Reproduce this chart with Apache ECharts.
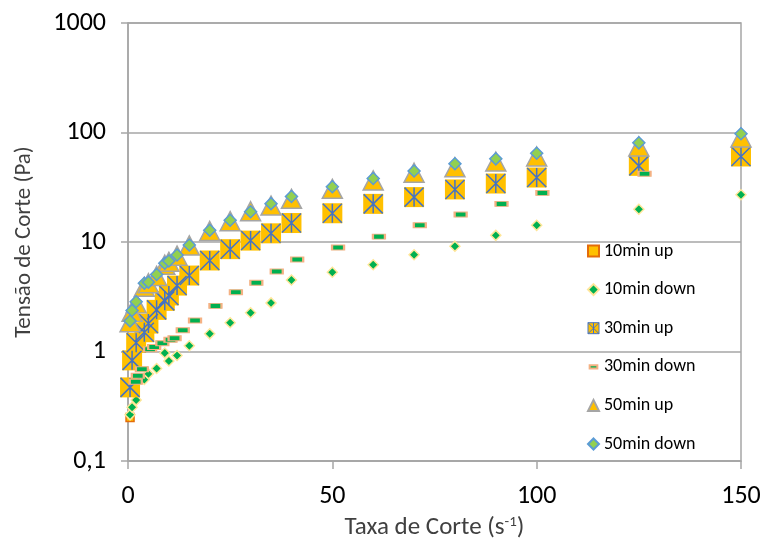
<!DOCTYPE html>
<html>
<head>
<meta charset="utf-8">
<script src="https://cdn.jsdelivr.net/npm/echarts@6/dist/echarts.min.js"></script>
<style>
html,body{margin:0;padding:0;background:#fff;}
#chart{width:763px;height:541px;}
</style>
</head>
<body>
<div id="chart"></div>
<script>
// Shear rate (s^-1)
const xRate = [0.5, 1, 2, 4, 5, 7, 9, 10, 12, 15, 20, 25, 30, 35, 40, 50, 60, 70, 80, 90, 100, 125, 150];
// 30min down points sit slightly to the right in the picture
const xRate30down = [1.9, 2.4, 3.4, 5.4, 6.4, 8.4, 10.4, 11.4, 13.4, 16.4, 21.4, 26.4, 31.4, 36.4, 41.4, 51.4, 61.4, 71.4, 81.4, 91.4, 101.4, 126.4, 151.4];

const up10   = [0.25, 0.75, 1.1, 1.4, 1.65, 2.2, 2.7, 3.0, 3.7, 4.6, 6.3, 8.0, 9.6, 11.2, 13.9, 17.2, 21.0, 24.3, 28.6, 32.5, 37.0, 47.5, 58.0];
const down10 = [0.264, 0.31, 0.36, 0.555, 0.625, 0.70, 0.97, 0.82, 0.92, 1.13, 1.45, 1.83, 2.26, 2.78, 4.5, 5.3, 6.2, 7.64, 9.16, 11.5, 14.2, 19.9, 27.0];
const up30   = [0.47, 0.83, 1.2, 1.5, 1.8, 2.4, 2.9, 3.25, 4.0, 4.94, 6.78, 8.6, 10.3, 12.0, 14.9, 18.3, 22.3, 25.7, 30.2, 34.2, 38.8, 49.6, 60.4];
const down30 = [0.53, 0.60, 0.69, 1.05, 1.10, 1.19, 1.28, 1.32, 1.56, 1.92, 2.61, 3.48, 4.24, 5.38, 6.92, 8.9, 11.2, 14.2, 17.8, 22.3, 28.1, 42.0, 57.5];
const up50   = [1.85, 2.3, 2.75, 3.9, 4.2, 4.9, 6.2, 6.6, 7.5, 9.3, 12.6, 15.5, 19.1, 21.5, 24.8, 30.6, 36.5, 42.9, 48.2, 54.3, 60.4, 74.5, 90.0];
const down50 = [1.9, 2.37, 2.85, 4.2, 4.3, 5.05, 6.4, 6.7, 7.6, 9.4, 12.8, 15.8, 18.9, 22.4, 26.0, 32.0, 38.0, 44.5, 51.8, 57.5, 64.7, 80.5, 97.3];

const seriesNames = ['10min up', '10min down', '30min up', '30min down', '50min up', '50min down'];
const xAxisTitle = 'Taxa de Corte (s{sup|-1})';
const yAxisTitle = 'Tensão de Corte (Pa)';

function pairs(xs, ys) { return xs.map((x, i) => [x, ys[i]]); }

const FONT = 'Carlito, Calibri, Lato, sans-serif';
const chart = echarts.init(document.getElementById('chart'), null, {renderer: 'canvas'});

const asterisk = 'path://M0,0L20,20M20,0L0,20M10,0L10,20';
const asteriskBox = 'path://M0,0L20,0L20,20L0,20Z M0,0L20,20M20,0L0,20M10,0L10,20';
const dashIcon = 'path://M0,0M20,20M3,7L17,7L17,13L3,13Z';

chart.setOption({
  animation: false,
  backgroundColor: '#fff',
  grid: {left: 128, right: 22, top: 23, bottom: 80, show: true, borderColor: '#A6A6A6', borderWidth: 1.5,
    containLabel: false, outerBoundsMode: 'none'},
  xAxis: {
    type: 'value', min: 0, max: 150, interval: 50,
    axisLine: {show: true, lineStyle: {color: '#A6A6A6', width: 1.5}},
    axisTick: {show: true, length: 8, lineStyle: {color: '#A6A6A6', width: 1.5}},
    splitLine: {show: false},
    axisLabel: {color: '#000', fontSize: 26, fontFamily: FONT, margin: 22},
    name: xAxisTitle,
    nameLocation: 'middle', nameGap: 54,
    nameTextStyle: {color: '#404040', fontSize: 25, fontFamily: FONT,
      rich: {sup: {fontSize: 15, verticalAlign: 'top', padding: [0,0,11,0], color: '#404040', fontFamily: FONT}}}
  },
  yAxis: {
    type: 'log', logBase: 10, min: 0.1, max: 1000,
    axisLine: {show: true, lineStyle: {color: '#A6A6A6', width: 1.5}},
    axisTick: {show: true, length: 7, lineStyle: {color: '#A6A6A6', width: 1.5}},
    splitLine: {show: true, lineStyle: {color: '#A6A6A6', width: 1.5}},
    minorTick: {show: false},
    axisLabel: {color: '#000', fontSize: 26, fontFamily: FONT, margin: 22,
      formatter: v => String(v).replace('.', ',')},
    name: yAxisTitle,
    nameLocation: 'middle', nameGap: 92, nameRotate: 90,
    nameTextStyle: {color: '#404040', fontSize: 23, fontFamily: FONT}
  },
  legend: {
    orient: 'vertical', left: 582, top: 236,
    itemGap: 18.6, itemWidth: 11, itemHeight: 11,
    textStyle: {fontSize: 18, fontFamily: FONT, color: '#000', lineHeight: 20},
    data: [
      seriesNames[0],
      seriesNames[1],
      {name: seriesNames[2], icon: asteriskBox, itemStyle: {color: '#FFC000', borderColor: '#4472C4', borderWidth: 1}},
      {name: seriesNames[3], icon: dashIcon},
      seriesNames[4],
      seriesNames[5]
    ]
  },
  series: [
    {name: seriesNames[0], type: 'scatter', data: pairs(xRate, up10), symbol: 'rect', symbolSize: 8,
      itemStyle: {color: '#FFC000', borderColor: '#E46C0A', borderWidth: 1.5, opacity: 1}, z: 2},
    {name: seriesNames[1], type: 'scatter', data: pairs(xRate, down10), symbol: 'diamond', symbolSize: 10,
      itemStyle: {color: '#00B050', borderColor: '#FFE699', borderWidth: 1.5, opacity: 1}, z: 2},
    {name: seriesNames[2], type: 'scatter', data: pairs(xRate, up30), symbol: 'rect', symbolSize: 20,
      itemStyle: {color: '#FFC000', borderWidth: 0, opacity: 1}, z: 2},
    {name: seriesNames[2], type: 'scatter', data: pairs(xRate, up30), symbol: asterisk, symbolSize: 19,
      itemStyle: {color: 'rgba(0,0,0,0)', borderColor: '#4472C4', borderWidth: 1.5, opacity: 1}, z: 2},
    {name: seriesNames[3], type: 'scatter', data: pairs(xRate30down, down30), symbol: 'rect', symbolSize: [12, 5],
      itemStyle: {color: '#00B050', borderColor: '#F4B183', borderWidth: 1.5, opacity: 1}, z: 2},
    {name: seriesNames[4], type: 'scatter', data: pairs(xRate, up50), symbol: 'triangle', symbolSize: [20, 19],
      itemStyle: {color: '#FFC000', borderColor: '#A5A5A5', borderWidth: 1.5, opacity: 1}, z: 2},
    {name: seriesNames[5], type: 'scatter', data: pairs(xRate, down50), symbol: 'diamond', symbolSize: 12,
      itemStyle: {color: '#92D050', borderColor: '#5B9BD5', borderWidth: 1.5, opacity: 1}, z: 2}
  ]
});
</script>
</body>
</html>
